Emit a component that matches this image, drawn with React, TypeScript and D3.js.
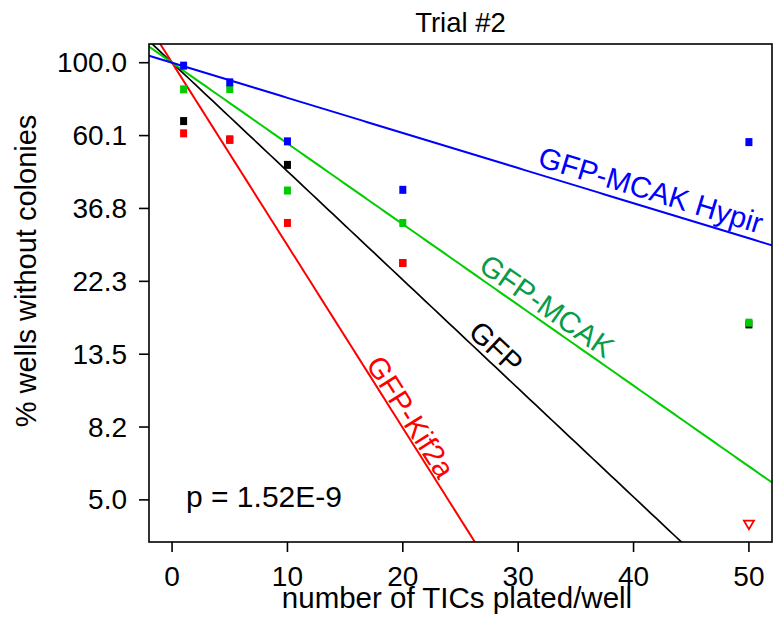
import React from "react";
import * as d3 from "d3";

// chart values
const cellsPlated = [1, 5, 10, 20, 50];
const gfpWells = [67.0, 59.0, 49.6, 25.3, 16.6];
const kif2aWells = [61.6, 59.0, 33.3, 25.3, null];
const mcakWells = [83.3, 83.5, 41.6, 33.3, 16.8];
const hypirWells = [98.0, 87.4, 58.3, 41.8, 58.0];
const kif2aCensored = [{ x: 50, y: 4.2 }];

// fitted rates (100 * exp(-k * x))
const seriesNames = ["GFP", "GFP-Kif2a", "GFP-MCAK", "GFP-MCAK Hypir"];
const fitRates = [0.0745, 0.1253, 0.0554, 0.0241];
const labelX = [28.1, 20.7, 32.5, 41.5];
const labelY = [14.2, 8.8, 18.85, 41.8];

const xTicks = [0, 10, 20, 30, 40, 50];
const yTickValues = [100, 60.65, 36.79, 22.31, 13.53, 8.21, 4.98];
const yTickLabels = ["100.0", "60.1", "36.8", "22.3", "13.5", "8.2", "5.0"];

const W = 782, H = 619;
const margin = { top: 44, right: 10, bottom: 77, left: 149 };
const font = "'Liberation Sans', Arial, Helvetica, sans-serif";

export default function App() {
  const x = d3.scaleLinear().domain([-2, 52]).range([margin.left, W - margin.right]);
  const y = d3.scaleLog().domain([3.73, 113.7]).range([H - margin.bottom, margin.top]);

  const lineColors = ["#000000", "#ff0000", "#00cc00", "#0000ff"];
  const textColors = ["#000000", "#ff0000", "#079c48", "#0000ff"];
  const pointSets = [gfpWells, kif2aWells, mcakWells, hypirWells];

  const [x0, x1] = x.domain();
  const fitPath = (k: number) =>
    d3
      .line<number>()
      .x((d) => x(d))
      .y((d) => y(100 * Math.exp(-k * d)))(d3.range(x0, x1 + 0.01, 0.5));

  // angle of each fit line on screen
  const angleOf = (k: number) => {
    const dx = x(10) - x(0);
    const dy = y(100 * Math.exp(-k * 10)) - y(100);
    return (Math.atan2(dy, dx) * 180) / Math.PI;
  };

  const pb = H - margin.bottom;
  const sq = 7;

  return (
    <svg
      width={W}
      height={H}
      style={{ position: "absolute", left: 0, top: 0, background: "#fff" }}
      fontFamily={font}
    >
      <defs>
        <clipPath id="plotArea">
          <rect x={margin.left} y={margin.top} width={W - margin.right - margin.left} height={pb - margin.top} />
        </clipPath>
      </defs>

      <text x={(margin.left + W - margin.right) / 2} y={32} fontSize={27.5} textAnchor="middle">
        Trial #2
      </text>

      {/* fitted lines */}
      <g clipPath="url(#plotArea)">
        {fitRates.map((k, i) => (
          <path key={i} d={fitPath(k) || ""} fill="none" stroke={lineColors[i]} strokeWidth={i === 0 ? 1.7 : 2} />
        ))}
      </g>

      {/* points */}
      {pointSets.map((vals, i) => (
        <g key={i} fill={lineColors[i]}>
          {vals.map((v, j) =>
            v == null ? null : (
              <rect key={j} x={x(cellsPlated[j]) - sq / 2} y={y(v) - sq / 2 - 0.5} width={sq} height={sq + 1} />
            )
          )}
        </g>
      ))}
      {kif2aCensored.map((d, i) => {
        const cx = x(d.x), cy = y(d.y);
        return (
          <path
            key={i}
            d={`M${cx - 5},${cy - 4}L${cx + 5},${cy - 4}L${cx},${cy + 4.5}Z`}
            fill="none"
            stroke="#ff0000"
            strokeWidth={1.8}
          />
        );
      })}

      {/* line labels */}
      {seriesNames.map((name, i) => (
        <text
          key={name}
          transform={`translate(${x(labelX[i])},${y(labelY[i])}) rotate(${angleOf(fitRates[i])})`}
          fontSize={29.5}
          fill={textColors[i]}
          textAnchor="middle"
          dominantBaseline="central"
        >
          {name}
        </text>
      ))}

      <text x={186} y={507} fontSize={30}>
        p = 1.52E-9
      </text>

      {/* frame */}
      <rect
        x={margin.left}
        y={margin.top}
        width={W - margin.right - margin.left}
        height={pb - margin.top}
        fill="none"
        stroke="#000"
        strokeWidth={1.6}
      />

      {/* x axis */}
      <g>
        {xTicks.map((t) => (
          <g key={t}>
            <line x1={x(t)} x2={x(t)} y1={pb} y2={pb + 10} stroke="#000" strokeWidth={1.6} />
            <text x={x(t)} y={586} fontSize={28} textAnchor="middle">
              {t}
            </text>
          </g>
        ))}
        <text x={457} y={608} fontSize={29.5} textAnchor="middle">
          number of TICs plated/well
        </text>
      </g>

      {/* y axis */}
      <g>
        {yTickValues.map((t, i) => (
          <g key={t}>
            <line x1={margin.left - 10} x2={margin.left} y1={y(t)} y2={y(t)} stroke="#000" strokeWidth={1.6} />
            <text x={127} y={y(t)} fontSize={28} textAnchor="end" dominantBaseline="central">
              {yTickLabels[i]}
            </text>
          </g>
        ))}
        <text transform="translate(36,271) rotate(-90)" fontSize={29} textAnchor="middle">
          % wells without colonies
        </text>
      </g>
    </svg>
  );
}
